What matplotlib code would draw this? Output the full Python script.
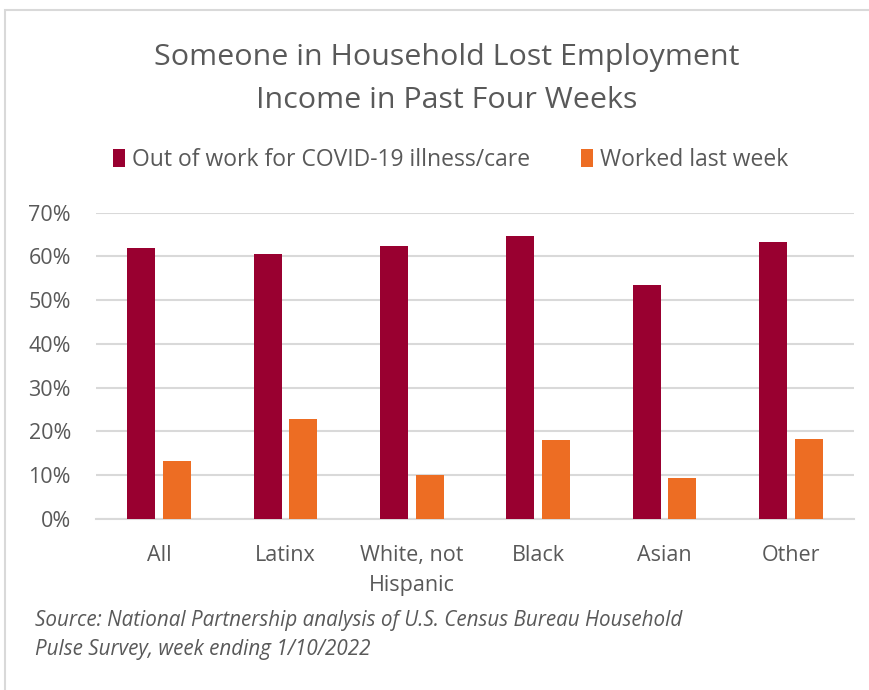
import matplotlib.pyplot as plt
from matplotlib.patches import Rectangle
from matplotlib.ticker import PercentFormatter
import numpy as np

plt.rcParams['font.family'] = ['Open Sans', 'DejaVu Sans']

# Share of households where someone lost employment income
categories = ['All', 'Latinx', 'White, not\nHispanic', 'Black', 'Asian', 'Other']
out_of_work = [0.619, 0.606, 0.625, 0.647, 0.535, 0.632]
worked_last_week = [0.131, 0.227, 0.099, 0.180, 0.093, 0.182]
y_ticks = [0, 0.1, 0.2, 0.3, 0.4, 0.5, 0.6, 0.7]

dark_red = '#990030'
orange = '#ED6D23'
grey_text = '#595959'

fig = plt.figure(figsize=(8.7, 6.9), dpi=100)
ax = fig.add_axes([0.1103, 0.2483, 0.8713, 0.4434])

# thin frame around the whole chart
fig.patches.append(Rectangle((5 / 870, -0.1), 1.2, 1 - 10 / 690 + 0.1,
                             transform=fig.transFigure, fill=False,
                             edgecolor='#d9d9d9', linewidth=1.5))

x = np.arange(len(categories))
w = 0.222
ax.bar(x - 0.142, out_of_work, w, color=dark_red, label='Out of work for COVID-19 illness/care', zorder=3)
ax.bar(x + 0.142, worked_last_week, w, color=orange, label='Worked last week', zorder=3)

ax.set_xlim(-0.5, len(categories) - 0.5)
ax.set_ylim(0, 0.7)
ax.set_yticks(y_ticks)
ax.yaxis.set_major_formatter(PercentFormatter(1.0, decimals=0))
ax.set_xticks(x)
ax.set_xticklabels(categories, linespacing=1.55)
ax.tick_params(axis='both', length=0, labelsize=15.5, labelcolor=grey_text)
ax.tick_params(axis='y', pad=18)
ax.tick_params(axis='x', pad=19)

ax.grid(axis='y', color='#d9d9d9', linewidth=1.5, zorder=0)
for side in ['top', 'right', 'left']:
    ax.spines[side].set_visible(False)
ax.spines['bottom'].set_color('#d9d9d9')
ax.spines['bottom'].set_linewidth(1.5)

fig.text(0.513, 1 - 79 / 690, 'Someone in Household Lost Employment\nIncome in Past Four Weeks',
         ha='center', va='center', fontsize=21.9, color=grey_text, linespacing=1.62)

fig.legend(loc='center', bbox_to_anchor=(0.518, 1 - 160 / 690), ncol=2, frameon=False,
           fontsize=16.5, labelcolor=grey_text, handlelength=0.55, handleheight=0.8,
           handletextpad=0.3, columnspacing=2.2)

fig.text(35 / 870, 1 - 635 / 690,
         'Source: National Partnership analysis of U.S. Census Bureau Household\n'
         'Pulse Survey, week ending 1/10/2022',
         ha='left', va='center', fontsize=14.9, style='italic', color=grey_text, linespacing=1.45)

fig.savefig('out.png', dpi=100)
